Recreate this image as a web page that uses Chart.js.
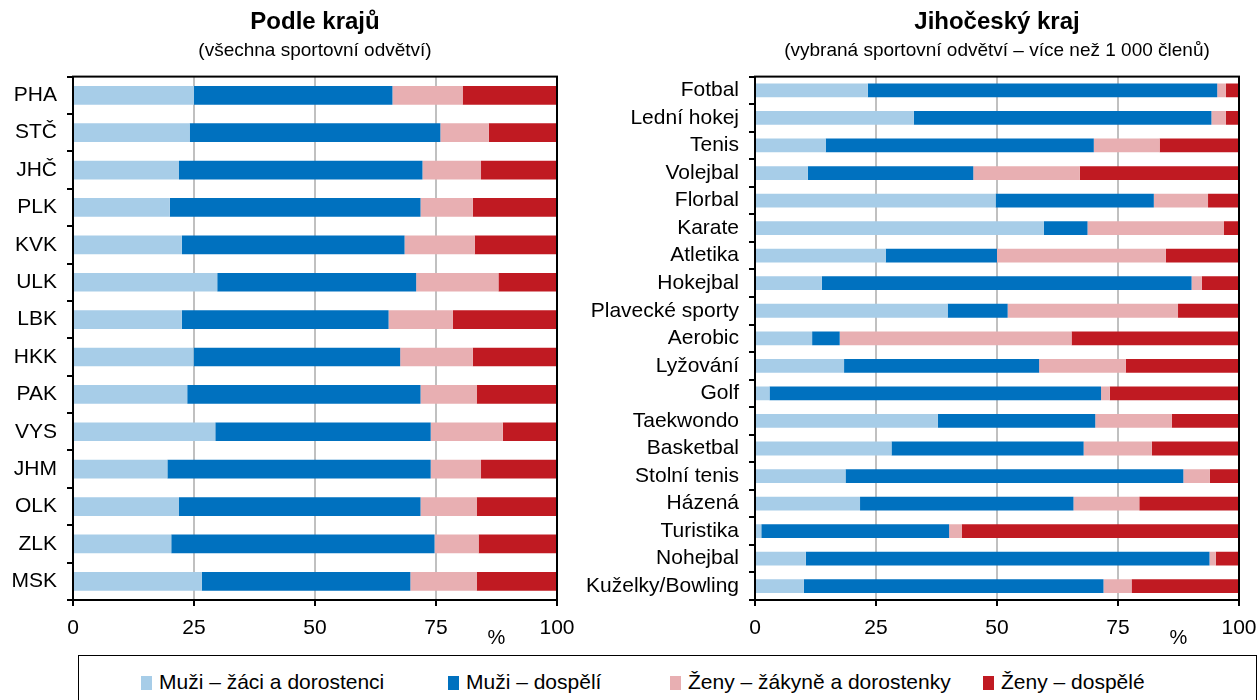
<!DOCTYPE html>
<html>
<head>
<meta charset="utf-8">
<script src="https://cdn.jsdelivr.net/npm/chart.js@4.4.0/dist/chart.umd.min.js"></script>
<style>
  body { margin: 0; background: #fff; width: 1260px; height: 700px; overflow: hidden; position: relative; font-family: "Liberation Sans", Arial, sans-serif; }
  #left { position: absolute; left: 0; top: 0; width: 580px; height: 650px; }
  #right { position: absolute; left: 580px; top: 0; width: 680px; height: 650px; }
  #legend { position: absolute; left: 78px; top: 655px; width: 1179px; height: 60px; border: 1px solid #000; box-sizing: border-box; }
  .item { position: absolute; top: 14px; font-size: 21px; line-height: 24px; color: #000; white-space: nowrap; }
  .sw { display: inline-block; width: 11px; height: 14px; margin-right: 7px; vertical-align: -1px; }
</style>
</head>
<body>
<div id="left"><canvas id="chartLeft"></canvas></div>
<div id="right"><canvas id="chartRight"></canvas></div>
<div id="legend"></div>
<script>
// --- data ---
const seriesLabels = ['Muži – žáci a dorostenci', 'Muži – dospělí', 'Ženy – žákyně a dorostenky', 'Ženy – dospělé'];
const seriesColors = ['#a7cde8', '#0071bf', '#e8afb2', '#c01a22'];
const xTicks = [0, 25, 50, 75, 100];

const regions = ['PHA', 'STČ', 'JHČ', 'PLK', 'KVK', 'ULK', 'LBK', 'HKK', 'PAK', 'VYS', 'JHM', 'OLK', 'ZLK', 'MSK'];
const regMuziZaci  = [25, 24.1, 21.9, 20, 22.5, 29.8, 22.5, 24.9, 23.6, 29.4, 19.5, 21.9, 20.3, 26.6];
const regMuziDosp  = [41, 51.8, 50.3, 51.8, 46, 41.1, 42.7, 42.7, 48.2, 44.5, 54.4, 49.9, 54.4, 43.1];
const regZenyZak   = [14.5, 10, 12.1, 10.8, 14.5, 17, 13.3, 15, 11.6, 14.9, 10.4, 11.6, 9.1, 13.7];
const regZenyDosp  = [19.5, 14.1, 15.7, 17.4, 17, 12.1, 21.5, 17.4, 16.6, 11.2, 15.7, 16.6, 16.2, 16.6];

const sports = ['Fotbal', 'Lední hokej', 'Tenis', 'Volejbal', 'Florbal', 'Karate', 'Atletika', 'Hokejbal', 'Plavecké sporty', 'Aerobic',
  'Lyžování', 'Golf', 'Taekwondo', 'Basketbal', 'Stolní tenis', 'Házená', 'Turistika', 'Nohejbal', 'Kuželky/Bowling'];
const spMuziZaci = [23.3, 32.8, 14.6, 10.9, 49.7, 59.7, 27, 13.8, 39.8, 11.8, 18.4, 3, 37.8, 28.2, 18.7, 21.7, 1.3, 10.5, 10.1];
const spMuziDosp = [72.2, 61.5, 55.4, 34.2, 32.7, 9, 23, 76.4, 12.4, 5.7, 40.3, 68.5, 32.5, 39.7, 69.8, 44.1, 38.8, 83.4, 61.9];
const spZenyZak  = [1.8, 3, 13.6, 22, 11.2, 28.2, 34.9, 2.1, 35.2, 47.9, 17.9, 1.8, 15.8, 14.1, 5.5, 13.6, 2.6, 1.3, 5.8];
const spZenyDosp = [2.7, 2.7, 16.4, 32.9, 6.4, 3.1, 15.1, 7.7, 12.6, 34.6, 23.4, 26.7, 13.9, 18, 6, 20.6, 57.3, 4.8, 22.2];

Chart.defaults.font.family = '"Liberation Sans", Arial, sans-serif';
Chart.defaults.color = '#000';

// frame round the plot area + the "%" unit under the x axis
const framePlugin = {
  id: 'frame',
  afterDraw(chart) {
    const { ctx, chartArea: a, scales } = chart;
    ctx.save();
    ctx.strokeStyle = '#000';
    ctx.lineWidth = 2;
    ctx.strokeRect(a.left, a.top, a.right - a.left, a.bottom - a.top);
    ctx.font = '20px "Liberation Sans", Arial, sans-serif';
    ctx.fillStyle = '#000';
    ctx.textAlign = 'center';
    ctx.textBaseline = 'middle';
    ctx.fillText('%', scales.x.getPixelForValue(87.5), a.bottom + 38);
    ctx.restore();
  }
};

function makeChart(id, labels, values, title, subtitle, yWidth, padRight) {
  return new Chart(document.getElementById(id), {
    type: 'bar',
    data: {
      labels: labels,
      datasets: values.map((v, i) => ({
        label: seriesLabels[i],
        data: v,
        backgroundColor: seriesColors[i],
        borderWidth: 0,
        categoryPercentage: 1,
        barPercentage: 0.5
      }))
    },
    options: {
      indexAxis: 'y',
      responsive: true,
      maintainAspectRatio: false,
      animation: false,
      layout: { padding: { left: 0, right: padRight, top: 0, bottom: 0 } },
      plugins: {
        legend: { display: false },
        tooltip: { enabled: false },
        title: {
          display: true, text: title, fullSize: false,
          font: { size: 24, weight: 'bold' },
          padding: { top: 8, bottom: 2 }
        },
        subtitle: {
          display: true, text: subtitle, fullSize: false,
          font: { size: 19 },
          padding: { top: 1, bottom: 14 }
        }
      },
      scales: {
        x: {
          stacked: true, min: 0, max: 100,
          afterBuildTicks: s => { s.ticks = xTicks.map(v => ({ value: v })); },
          afterFit: s => { s.height = 50; s.paddingLeft = 0; s.paddingRight = 0; },
          ticks: { font: { size: 21 }, padding: 10 },
          grid: {
            color: c => (c.tick && (c.tick.value === 0 || c.tick.value === 100)) ? '#000' : '#c0c0c0',
            lineWidth: 2, tickLength: 6, tickColor: '#000'
          },
          border: { color: '#000', width: 2 }
        },
        y: {
          stacked: true,
          afterFit: s => { s.width = yWidth; },
          ticks: { font: { size: 21 }, padding: 10, autoSkip: false },
          grid: { drawOnChartArea: false, offset: true, tickLength: 6, color: '#000', lineWidth: 2 },
          border: { color: '#000', width: 2 }
        }
      }
    },
    plugins: [framePlugin]
  });
}

makeChart('chartLeft', regions, [regMuziZaci, regMuziDosp, regZenyZak, regZenyDosp],
  'Podle krajů', '(všechna sportovní odvětví)', 73, 23);
makeChart('chartRight', sports, [spMuziZaci, spMuziDosp, spZenyZak, spZenyDosp],
  'Jihočeský kraj', '(vybraná sportovní odvětví – více než 1 000 členů)', 175, 21);

// shared legend under both charts
const legendX = [62, 369, 591, 904];
const legend = document.getElementById('legend');
seriesLabels.forEach((lab, i) => {
  const el = document.createElement('div');
  el.className = 'item';
  el.style.left = legendX[i] + 'px';
  el.innerHTML = '<span class="sw" style="background:' + seriesColors[i] + '"></span>' + lab;
  legend.appendChild(el);
});
</script>
</body>
</html>
